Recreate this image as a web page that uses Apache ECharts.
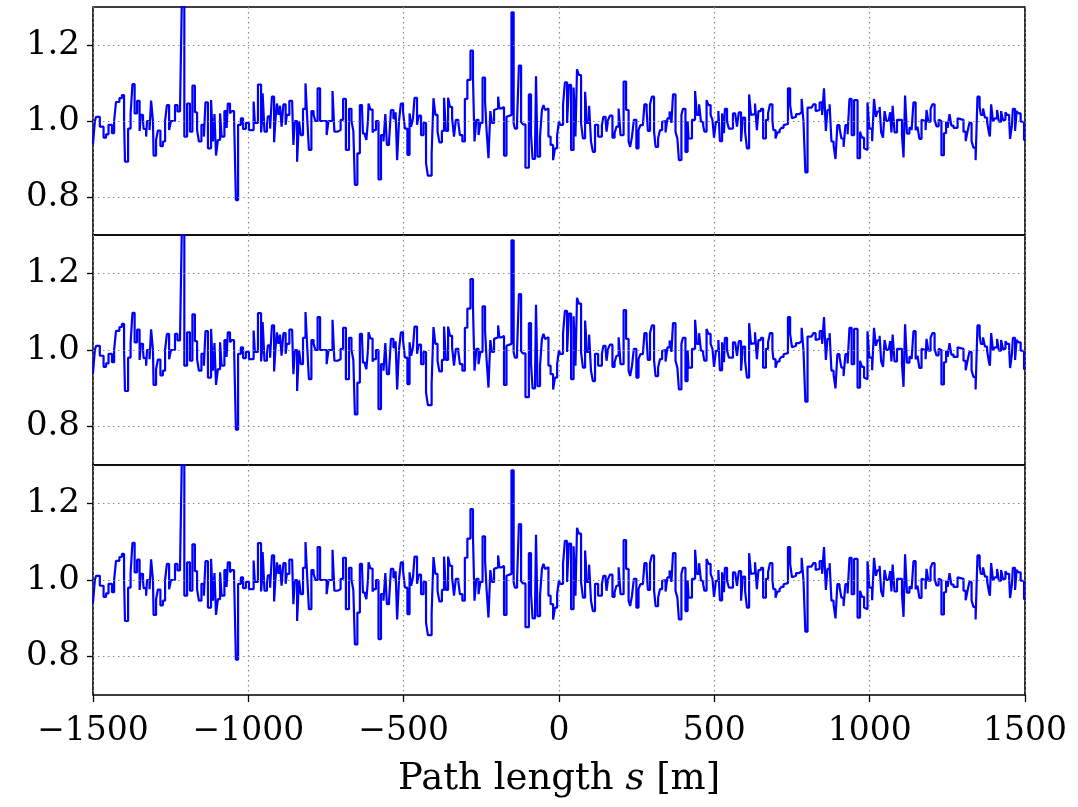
<!DOCTYPE html>
<html>
<head>
<meta charset="utf-8">
<script src="https://cdn.jsdelivr.net/npm/echarts@6/dist/echarts.min.js"></script>
<style>html,body{margin:0;padding:0;background:#fff;}#c{width:1078px;height:807px;}</style>
</head>
<body>
<div id="c"></div>
<script>
// Path length positions (m) where each step level begins
const sPos = [
-1500,-1494,-1490,-1478,-1466,-1458,-1450,-1439,-1432,-1426,-1415,-1407,-1400,-1397,-1387,-1379,-1373,-1366,-1358,-1350,-1346,-1339,-1337,-1329,-1326,-1318,-1313,-1307,-1305,-1297,-1291,-1283,-1275,-1268,-1262,-1255,-1249,-1236,
-1228,-1220,-1214,-1206,-1197,-1188,-1180,-1172,-1165,-1159,-1151,-1143,-1138,-1130,-1120,-1114,-1109,-1104,-1098,-1091,-1086,-1077,-1070,-1066,-1059,-1053,-1046,-1040,-1033,-1024,-1017,-1008,-998,-983,-979,-969,-959,
-956,-954,-948,-940,-937,-930,-924,-917,-913,-908,-903,-898,-893,-887,-880,-876,-868,-859,-855,-850,-843,-837,-831,-824,-816,-810,-805,-797,-790,-784,-777,-769,-748,-742,-729,-723,-713,-703,-695,-686,
-676,-668,-662,-657,-649,-641,-634,-631,-624,-620,-615,-613,-607,-600,-596,-589,-581,-573,-565,-559,-554,-547,-541,-533,-526,-521,-515,-509,-502,-496,-488,-481,-476,-470,-465,-457,-451,-444,-436,-428,-422,
-410,-404,-398,-391,-385,-377,-370,-364,-357,-351,-344,-338,-332,-324,-319,-311,-303,-295,-285,-277,-272,-266,-259,-253,-246,-238,-233,-227,-221,-216,-209,-203,-196,-192,-185,-177,-169,-163,-153,-146,-142,
-135,-129,-122,-116,-108,-97,-90,-85,-77,-74,-69,-61,-55,-50,-45,-40,-34,-27,-19,-13,-6,0,3,13,19,26,32,39,47,53,58,64,71,77,84,90,97,103,109,116,126,
138,143,150,153,158,164,172,179,185,192,198,208,216,224,229,235,241,249,256,262,270,275,282,286,293,299,306,311,319,325,332,338,343,349,356,362,367,375,381,386,394,399,407,
414,417,428,438,444,451,457,464,468,475,481,488,494,499,505,513,518,525,531,534,541,547,560,567,573,579,586,592,599,605,612,618,624,631,637,642,650,657,666,673,679,
687,690,697,703,710,716,723,729,737,744,750,756,763,773,781,787,793,800,813,819,826,832,839,847,853,859,864,871,877,884,890,896,903,909,916,922,929,935,942,950,
961,969,975,982,988,993,999,1008,1014,1020,1025,1032,1037,1043,1048,1054,1061,1066,1070,1074,1080,1088,1104,1109,1114,1120,1128,1135,1141,1148,1154,1160,1167,1173,1180,1183,1189,1196,1202,1209,1215,1222,1228,1231,
1239,1246,1251,1257,1263,1270,1283,1289,1302,1309,1315,1321,1328,1334,1341,1347,1354,1358,1365,1371,1378,1384,1387,1391,1397,1403,1410,1416,1423,1429,1437,1442,1449,1452,1458,1461,1468,1473,1479,1486,1497,1500
];
// Ratio values (same shape in all three panels)
const ratio = [
0.94,1.0,1.011,0.985,0.956,0.965,0.99,0.968,1.0,1.05,1.06,1.068,1.0,0.893,0.98,1.018,1.097,1.02,1.053,0.974,1.016,1.0,0.979,0.959,1.0,0.976,1.054,1.0,0.909,0.95,0.975,0.934,0.946,1.0,1.042,0.976,1.0,1.042,
1.025,1.023,1.32,0.959,1.046,0.972,1.093,1.023,0.976,0.946,0.99,0.959,1.049,0.928,1.055,0.946,1.018,0.909,0.95,1.02,0.959,1.026,0.982,1.046,1.02,1.026,1.01,0.792,0.99,1.007,0.979,0.995,0.976,1.051,0.995,1.096,0.97,
1.0,1.073,0.972,0.99,1.012,0.98,1.064,0.944,1.0,1.046,1.016,1.04,0.985,1.044,0.99,1.016,1.053,1.05,0.937,1.0,0.893,1.0,0.963,1.032,1.099,1.0,0.924,1.026,1.016,1.0,1.086,1.0,0.963,1.0,1.079,0.972,0.976,1.003,1.058,0.924,
1.032,1.0,0.974,0.832,0.915,1.042,1.03,0.967,0.96,0.95,1.0,1.046,1.03,0.97,0.976,1.0,0.846,0.963,0.946,1.018,0.937,0.946,1.029,1.007,1.023,0.897,1.0,1.046,1.025,0.98,0.911,1.02,0.985,1.007,1.061,0.99,1.014,0.963,0.995,0.889,0.856,
0.912,1.06,1.016,0.972,0.944,0.974,1.061,0.974,1.061,1.037,1.007,0.959,1.003,0.996,0.963,0.946,1.058,1.108,1.185,1.117,0.946,1.003,0.963,0.995,1.114,1.051,0.974,0.902,1.026,0.995,1.029,1.033,1.064,1.033,1.037,0.909,1.011,1.016,1.286,0.995,0.98,
1.0,1.146,0.997,0.991,0.877,1.07,0.963,0.9,0.937,1.118,0.906,0.959,1.029,1.042,1.029,1.033,0.959,0.937,0.897,0.928,0.963,1.0,0.99,1.042,1.102,0.995,1.095,0.924,1.088,0.959,1.136,1.121,0.995,0.954,1.077,0.995,1.04,0.946,0.919,0.99,0.959,
0.989,1.011,1.003,0.972,1.003,1.014,0.956,0.968,0.985,1.033,0.963,1.104,1.029,0.946,0.932,0.959,1.003,0.928,0.976,0.989,0.993,1.044,1.029,0.974,1.044,1.064,0.972,0.932,0.954,0.976,0.998,1.0,0.97,1.007,1.025,0.995,1.07,0.972,0.954,0.897,1.016,1.032,0.919,
0.999,0.954,1.003,1.079,1.016,1.044,0.998,0.989,0.972,1.055,1.042,1.016,1.003,0.956,0.998,1.026,0.947,1.02,0.968,1.032,0.998,0.98,1.02,1.023,0.985,1.023,0.946,1.009,0.972,0.928,1.07,1.016,1.018,1.046,0.976,1.026,1.032,0.954,1.003,1.02,1.044,
1.0,0.976,0.954,0.97,0.976,0.982,0.989,0.992,1.086,1.042,1.007,1.011,1.018,1.023,1.058,0.998,0.865,1.035,1.032,1.044,1.026,1.029,1.049,1.016,1.086,0.974,1.029,1.044,0.946,0.935,0.9,0.989,0.982,0.954,0.932,0.989,0.965,1.058,0.963,1.055,
0.902,0.972,0.956,0.928,0.924,1.049,0.98,0.947,1.058,1.011,1.025,1.037,0.97,0.956,1.026,1.0,0.995,1.023,0.97,1.04,0.97,1.003,0.963,0.904,1.067,0.967,0.982,0.976,1.049,0.976,0.985,0.953,1.003,1.0,0.976,1.029,0.998,1.032,1.044,1.003,0.986,1.003,1.0,0.91,
0.968,0.998,0.982,1.018,0.988,0.982,1.007,1.003,0.972,0.947,0.972,0.995,0.947,0.93,0.897,1.064,1.037,1.016,1.033,1.009,0.998,0.968,0.959,1.044,0.999,1.007,1.029,0.998,1.026,1.003,1.023,1.016,1.003,0.953,0.989,1.032,0.974,1.026,1.02,0.998,0.95,0.95
];
const panelTop = ratio, panelMid = ratio, panelBot = ratio;
const xTicks = [-1500,-1000,-500,0,500,1000,1500];
const yTicks = [0.8,1.0,1.2];

const chart = echarts.init(document.getElementById('c'));
const FONT = 'DejaVu Serif';
const grids = [
  {left:93, right:53, top:7, height:228},
  {left:93, right:53, top:235, height:230},
  {left:93, right:53, top:465, height:230}
].map(g => Object.assign(g, {show:true, borderColor:'#000', borderWidth:1.6, backgroundColor:'transparent', containLabel:false}));

const xAxes = [0,1,2].map(i => ({
  type:'value', gridIndex:i, min:-1500, max:1500, interval:500,
  axisLine:{show:false, onZero:false},
  axisTick:{show:i===2, length:7, lineStyle:{color:'#000', width:1.3}},
  axisLabel:{show:i===2, margin:20, color:'#000', fontFamily:FONT, fontSize:33,
    formatter:v => v < 0 ? '\u2212' + Math.abs(v) : String(v)},
  splitLine:{show:true, lineStyle:{color:'#8a8a8a', width:1.2, type:[1.5,3.5]}},
  name: i===2 ? '{a|Path length }{b|s}{a| [m]}' : '',
  nameLocation:'middle', nameGap:66,
  nameTextStyle:{rich:{
    a:{fontFamily:FONT, fontSize:37, color:'#000'},
    b:{fontFamily:FONT, fontSize:37, color:'#000', fontStyle:'italic'}
  }}
}));
const yAxes = [0,1,2].map(i => ({
  type:'value', gridIndex:i, min:0.7, max:1.3,
  axisLine:{show:false, onZero:false},
  axisTick:{show:true, length:6, customValues:yTicks, lineStyle:{color:'#000', width:1.3}},
  axisLabel:{show:true, customValues:yTicks, margin:13, color:'#000', fontFamily:FONT, fontSize:34,
    formatter:v => v.toFixed(1)},
  splitLine:{show:false}
}));
const panels = [panelTop, panelMid, panelBot];
const series = panels.map((vals, i) => ({
  type:'line', xAxisIndex:i, yAxisIndex:i, step:'end', showSymbol:false, symbol:'none',
  data: sPos.map((s, k) => [s, vals[k]]),
  lineStyle:{color:'#0000ff', width:2.2},
  clip:true, z:3,
  markLine:{silent:true, symbol:'none', label:{show:false},
    lineStyle:{color:'#8a8a8a', width:1.2, type:[1.5,3.5]},
    data: yTicks.map(y => ({yAxis:y}))}
}));

chart.setOption({
  animation:false,
  backgroundColor:'#fff',
  grid:grids, xAxis:xAxes, yAxis:yAxes, series:series
});
</script>
</body>
</html>
